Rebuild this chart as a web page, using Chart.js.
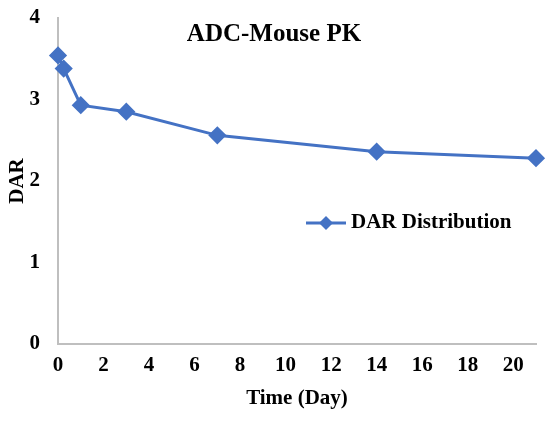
<!DOCTYPE html>
<html>
<head>
<meta charset="utf-8">
<script src="https://cdn.jsdelivr.net/npm/chart.js@4"></script>
<style>
  html, body { margin: 0; padding: 0; background: #fff; }
  #wrap { width: 558px; height: 426px; }
</style>
</head>
<body>
<div id="wrap"><canvas id="pk"></canvas></div>
<script>
const chartTitle = 'ADC-Mouse PK';
const seriesName = 'DAR Distribution';
const timeDays = [0, 0.25, 1, 3, 7, 14, 21];
const darValues = [3.54, 3.38, 2.93, 2.85, 2.56, 2.36, 2.28];
const xTicks = [0, 2, 4, 6, 8, 10, 12, 14, 16, 18, 20];
const yTicks = [0, 1, 2, 3, 4];

const blue = '#4472C4';
const serif = '"Liberation Serif", "Times New Roman", serif';

// title and legend sit inside the plot area, like the Excel original
const insideLabels = {
    id: 'insideLabels',
    afterDraw(chart) {
        const ctx = chart.ctx;
        ctx.save();
        ctx.fillStyle = '#000';
        ctx.textBaseline = 'middle';
        ctx.font = 'bold 25px ' + serif;
        ctx.textAlign = 'center';
        ctx.fillText(chartTitle, 274, 35);

        // legend entry
        ctx.strokeStyle = blue;
        ctx.lineWidth = 3;
        ctx.beginPath();
        ctx.moveTo(306, 223);
        ctx.lineTo(346, 223);
        ctx.stroke();
        ctx.fillStyle = blue;
        ctx.beginPath();
        ctx.moveTo(326, 216);
        ctx.lineTo(333, 223);
        ctx.lineTo(326, 230);
        ctx.lineTo(319, 223);
        ctx.closePath();
        ctx.fill();
        ctx.fillStyle = '#000';
        ctx.font = 'bold 21px ' + serif;
        ctx.textAlign = 'left';
        ctx.fillText(chart.data.datasets[0].label, 351, 223);
        ctx.restore();
    }
};

new Chart(document.getElementById('pk'), {
    type: 'line',
    data: {
        datasets: [{
            label: seriesName,
            data: timeDays.map((t, i) => ({ x: t, y: darValues[i] })),
            borderColor: blue,
            backgroundColor: blue,
            borderWidth: 3,
            pointStyle: 'rectRot',
            pointRadius: 7,
            pointHoverRadius: 7,
            tension: 0,
            clip: false
        }]
    },
    options: {
        responsive: true,
        maintainAspectRatio: false,
        animation: false,
        layout: { padding: { left: 0, right: 22, top: 18, bottom: 0 } },
        plugins: {
            legend: { display: false },
            title: { display: false },
            tooltip: { enabled: false }
        },
        scales: {
            x: {
                type: 'linear',
                min: 0,
                max: 21,
                afterFit: s => { s.height = 82; s.paddingLeft = 0; s.paddingRight = 0; },
                afterBuildTicks: s => { s.ticks = xTicks.map(v => ({ value: v })); },
                grid: { display: false, drawTicks: false },
                border: { color: '#bfbfbf', width: 2 },
                ticks: {
                    padding: 9,
                    color: '#000',
                    autoSkip: false,
                    maxRotation: 0,
                    font: { family: serif, size: 21, weight: 'bold' }
                },
                title: {
                    display: true,
                    text: 'Time (Day)',
                    color: '#000',
                    padding: { top: 0, bottom: 15 },
                    font: { family: serif, size: 21, weight: 'bold' }
                }
            },
            y: {
                min: 0,
                max: 4,
                afterFit: s => { s.width = 58; s.paddingTop = 0; s.paddingBottom = 0; },
                afterBuildTicks: s => { s.ticks = yTicks.map(v => ({ value: v })); },
                grid: { display: false, drawTicks: false },
                border: { color: '#bfbfbf', width: 2 },
                ticks: {
                    padding: 18,
                    color: '#000',
                    font: { family: serif, size: 21, weight: 'bold' }
                },
                title: {
                    display: true,
                    text: 'DAR',
                    color: '#000',
                    padding: { top: 5, bottom: 0 },
                    font: { family: serif, size: 21, weight: 'bold' }
                }
            }
        }
    },
    plugins: [insideLabels]
});
</script>
</body>
</html>
